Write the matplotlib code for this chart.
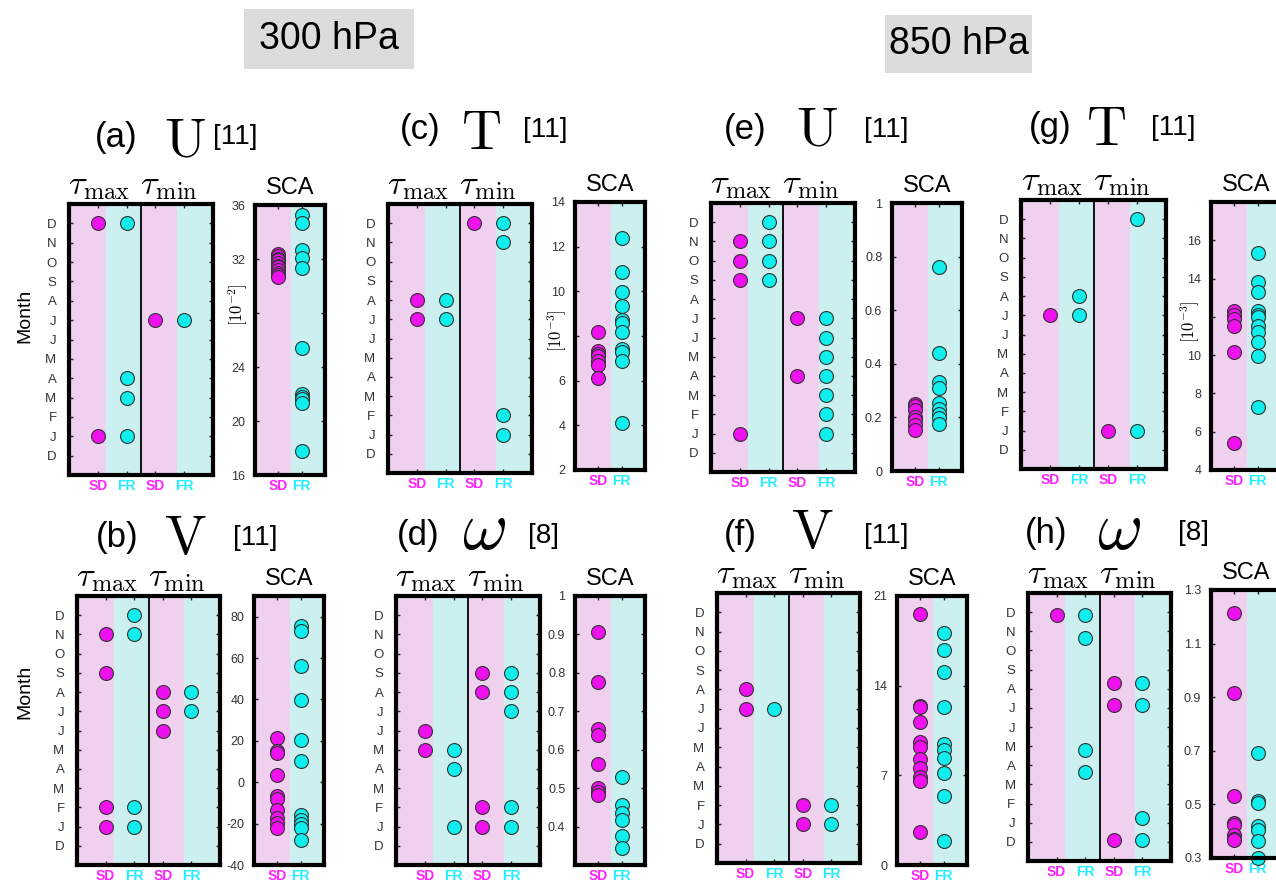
import matplotlib
matplotlib.use("Agg")
import matplotlib.pyplot as plt
from matplotlib.patches import Rectangle

plt.rcParams['font.family'] = ['Liberation Sans', 'DejaVu Sans']
plt.rcParams['mathtext.fontset'] = 'cm'

W, H = 1276, 882

# month index: 0 = D (prev), 1 = J ... 12 = D
month_labels = ['D', 'J', 'F', 'M', 'A', 'M', 'J', 'J', 'A', 'S', 'O', 'N', 'D']

# ---- (a) U 300 hPa
a_tmax_sd = [12, 1]
a_tmax_fr = [12, 4, 3, 1]
a_tmin_sd = [7]
a_tmin_fr = [7]
a_sca_sd = [32.4, 32.2, 32.0, 31.9, 31.7, 31.5, 31.4, 31.2, 31.0, 30.8, 30.7]
a_sca_fr = [35.25, 34.7, 32.7, 32.1, 31.3, 25.4, 22.0, 21.8, 21.6, 21.3, 17.8]

# ---- (b) V 300 hPa
b_tmax_sd = [11, 9, 2, 1]
b_tmax_fr = [12, 11, 2, 1]
b_tmin_sd = [8, 7, 6]
b_tmin_fr = [8, 7]
b_sca_sd = [21.5, 15.0, 14.2, 3.4, -6.8, -8.1, -13.2, -17.3, -19.7, -22.1]
b_sca_fr = [75.5, 73.1, 56.1, 39.5, 20.6, 10.2, -15.6, -18.1, -20.0, -22.1, -27.7]

# ---- (c) T 300 hPa
c_tmax_sd = [8, 7]
c_tmax_fr = [8, 7]
c_tmin_sd = [12]
c_tmin_fr = [12, 11, 2, 1]
c_sca_sd = [8.18, 7.31, 7.2, 7.1, 6.9, 6.7, 6.1]
c_sca_fr = [12.41, 10.85, 9.98, 9.35, 8.7, 8.6, 8.18, 7.43, 7.28, 6.9, 4.1]

# ---- (d) omega 300 hPa
d_tmax_sd = [6, 5]
d_tmax_fr = [5, 4, 1]
d_tmin_sd = [9, 8, 2, 1]
d_tmin_fr = [9, 8, 7, 2, 1]
d_sca_sd = [0.9076, 0.775, 0.655, 0.637, 0.563, 0.5, 0.489, 0.483]
d_sca_fr = [0.529, 0.455, 0.435, 0.416, 0.376, 0.345]

# ---- (e) U 850 hPa
e_tmax_sd = [11, 10, 9, 1]
e_tmax_fr = [12, 11, 10, 9]
e_tmin_sd = [7, 4]
e_tmin_fr = [7, 6, 5, 4, 3, 2, 1]
e_sca_sd = [0.249, 0.243, 0.227, 0.2, 0.19, 0.17, 0.152]
e_sca_fr = [0.76, 0.44, 0.333, 0.31, 0.255, 0.23, 0.214, 0.196, 0.177]

# ---- (f) V 850 hPa
f_tmax_sd = [8, 7]
f_tmax_fr = [7]
f_tmin_sd = [2, 1]
f_tmin_fr = [2, 1]
f_sca_sd = [19.6, 12.42, 12.3, 11.2, 9.6, 9.2, 8.3, 7.58, 6.9, 6.58, 2.55]
f_sca_fr = [18.1, 16.8, 15.05, 12.3, 9.47, 8.95, 8.34, 7.16, 5.37, 1.9]

# ---- (g) T 850 hPa
g_tmax_sd = [7]
g_tmax_fr = [8, 7]
g_tmin_sd = [1]
g_tmin_fr = [12, 1]
g_sca_sd = [12.31, 12.1, 11.88, 11.5, 10.15, 5.43]
g_sca_fr = [15.31, 13.84, 13.32, 12.31, 12.1, 11.97, 11.5, 11.19, 10.67, 9.97, 7.3]

# ---- (h) omega 850 hPa
h_tmax_sd = [11.83]
h_tmax_fr = [11.83, 10.66, 4.8, 3.63]
h_tmin_sd = [8.29, 7.15, 0.12]
h_tmin_fr = [8.29, 7.15, 1.27, 0.12]
h_sca_sd = [1.215, 0.915, 0.53, 0.431, 0.422, 0.385, 0.372, 0.366]
h_sca_fr = [0.69, 0.511, 0.505, 0.419, 0.406, 0.363, 0.30]

PINK = '#efd0ef'
CYAN = '#ccefef'
MAG = '#ee11ee'
CYN = '#11eeee'
SD_TXT = '#ff22ff'
FR_TXT = '#22eeff'

fig = plt.figure(figsize=(W / 100, H / 100), dpi=100)


def px_axes(l, t, r, b):
    return fig.add_axes([l / W, 1 - b / H, (r - l) / W, (b - t) / H])


def frame(ax):
    for s in ax.spines.values():
        s.set_linewidth(3)
        s.set_color('black')
        s.set_zorder(5)
    ax.tick_params(direction='in', length=3, width=1, left=True, right=True,
                   top=True, bottom=True, color='#222222')


def dots(ax, x, ys, col):
    ax.scatter([x] * len(ys), ys, s=100, c=col, edgecolors='#333333',
               linewidths=0.8, zorder=4, clip_on=False)


def color_xlabels(ax, labels):
    ax.set_xticklabels(labels, fontsize=10, fontweight='bold')
    for t, lab in zip(ax.get_xticklabels(), labels):
        t.set_color(SD_TXT if lab == 'SD' else FR_TXT)


def month_panel(box, tmax_sd, tmax_fr, tmin_sd, tmin_fr):
    ax = px_axes(*box)
    ax.axvspan(0, 1.3, color=PINK, lw=0, zorder=0)
    ax.axvspan(1.3, 2.5, color=CYAN, lw=0, zorder=0)
    ax.axvspan(2.5, 3.75, color=PINK, lw=0, zorder=0)
    ax.axvspan(3.75, 5, color=CYAN, lw=0, zorder=0)
    ax.axvline(2.5, color='black', lw=1.3, zorder=3)
    dots(ax, 1, tmax_sd, MAG)
    dots(ax, 2, tmax_fr, CYN)
    dots(ax, 3, tmin_sd, MAG)
    dots(ax, 4, tmin_fr, CYN)
    ax.set_xlim(0, 5)
    ax.set_ylim(-1, 13)
    ax.set_yticks(range(13))
    ax.set_yticklabels(month_labels, fontsize=9.5, color='#333333')
    ax.set_xticks([1, 2, 3, 4])
    color_xlabels(ax, ['SD', 'FR', 'SD', 'FR'])
    frame(ax)
    ax.tick_params(axis='x', pad=3)
    ax.tick_params(axis='y', pad=9)
    l, t, r, b = box
    fig.text((l + r) / 2 / W - 0.006, 1 - (t - 10) / H,
             r'$\tau_{\max}\ \tau_{\min}$', ha='center', va='baseline', fontsize=25)
    return ax


def sca_panel(box, sd, fr, ylim, ticks, ticklabels):
    ax = px_axes(*box)
    ax.axvspan(0, 1.55, color=PINK, lw=0, zorder=0)
    ax.axvspan(1.55, 3, color=CYAN, lw=0, zorder=0)
    dots(ax, 1, sd, MAG)
    dots(ax, 2, fr, CYN)
    ax.set_xlim(0, 3)
    ax.set_ylim(*ylim)
    ax.set_yticks(ticks)
    ax.set_yticklabels(ticklabels, fontsize=9, color='#333333')
    ax.set_xticks([1, 2])
    color_xlabels(ax, ['SD', 'FR'])
    frame(ax)
    ax.tick_params(axis='x', pad=3)
    ax.tick_params(axis='y', pad=7)
    l, t, r, b = box
    fig.text(min((l + r) / 2, 1248) / W, 1 - (t - 17) / H, 'SCA',
             ha='center', va='center', fontsize=17)
    return ax


def title(xs, y, base, letter, sym, n, symsize=40):
    fig.text(xs[0] / W, 1 - y / H, '(' + letter + ')', ha='center', va='center', fontsize=25)
    fig.text(xs[1] / W, 1 - base / H, sym, ha='center', va='baseline', fontsize=symsize)
    fig.text(xs[2] / W, 1 - y / H, '[' + n + ']', ha='center', va='center', fontsize=20)


# top row
month_panel((69, 204, 213, 475), a_tmax_sd, a_tmax_fr, a_tmin_sd, a_tmin_fr)
month_panel((388, 204, 532, 473), c_tmax_sd, c_tmax_fr, c_tmin_sd, c_tmin_fr)
month_panel((711, 203, 855, 472), e_tmax_sd, e_tmax_fr, e_tmin_sd, e_tmin_fr)
month_panel((1021, 200, 1166, 469), g_tmax_sd, g_tmax_fr, g_tmin_sd, g_tmin_fr)

sca_panel((255, 205, 325, 475), a_sca_sd, a_sca_fr, (16, 36),
          [16, 20, 24, 28, 32, 36], ['16', '20', '24', '', '32', '36'])
sca_panel((575, 202, 645, 470), c_sca_sd, c_sca_fr, (2, 14),
          [2, 4, 6, 8, 10, 12, 14], ['2', '4', '6', '', '10', '12', '14'])
sca_panel((892, 203, 962, 471), e_sca_sd, e_sca_fr, (0, 1),
          [0, 0.2, 0.4, 0.6, 0.8, 1], ['0', '0.2', '0.4', '0.6', '0.8', '1'])
sca_panel((1211, 202, 1281, 470), g_sca_sd, g_sca_fr, (4, 18),
          [4, 6, 8, 10, 12, 14, 16], ['4', '6', '8', '10', '', '14', '16'])

# bottom row
month_panel((77, 596, 220, 865), b_tmax_sd, b_tmax_fr, b_tmin_sd, b_tmin_fr)
month_panel((396, 596, 540, 865), d_tmax_sd, d_tmax_fr, d_tmin_sd, d_tmin_fr)
month_panel((717, 593, 860, 863), f_tmax_sd, f_tmax_fr, f_tmin_sd, f_tmin_fr)
month_panel((1028, 593, 1171, 861), h_tmax_sd, h_tmax_fr, h_tmin_sd, h_tmin_fr)

sca_panel((254, 596, 324, 865), b_sca_sd, b_sca_fr, (-40, 90),
          [-40, -20, 0, 20, 40, 60, 80], ['-40', '-20', '0', '20', '40', '60', '80'])
sca_panel((575, 596, 645, 865), d_sca_sd, d_sca_fr, (0.3, 1.0),
          [0.4, 0.5, 0.6, 0.7, 0.8, 0.9, 1.0], ['0.4', '0.5', '0.6', '0.7', '0.8', '0.9', '1'])
sca_panel((897, 596, 967, 865), f_sca_sd, f_sca_fr, (0, 21),
          [0, 7, 14, 21], ['0', '7', '14', '21'])
sca_panel((1211, 590, 1281, 858), h_sca_sd, h_sca_fr, (0.3, 1.3),
          [0.3, 0.5, 0.7, 0.9, 1.1, 1.3], ['0.3', '0.5', '0.7', '0.9', '1.1', '1.3'])

# scale labels on SCA axes
for x, y, s in [(238, 305, r'$[10^{-2}]$'), (557, 331, r'$[10^{-3}]$'), (1190, 322, r'$[10^{-3}]$')]:
    fig.text(x / W, 1 - y / H, s, rotation=90, ha='center', va='center', fontsize=12)

# panel titles
title((116, 185, 235), 137, 157, 'a', r'$\mathrm{U}$', '11')
title((420, 481, 545), 130, 149, 'c', r'$\mathrm{T}$', '11')
title((745, 817, 886), 130, 146, 'e', r'$\mathrm{U}$', '11')
title((1050, 1106, 1173), 128, 145, 'g', r'$\mathrm{T}$', '11')
title((117, 185, 255), 538, 554, 'b', r'$\mathrm{V}$', '11')
title((418, 484, 544), 536, 549, 'd', r'$\omega$', '8', symsize=50)
title((740, 812, 886), 536, 548, 'f', r'$\mathrm{V}$', '11')
title((1046, 1119, 1194), 533, 549, 'h', r'$\omega$', '8', symsize=50)

# Month labels
for y in [316, 692]:
    fig.text(25 / W, 1 - y / H, 'Month', rotation=90, ha='center', va='center', fontsize=14)

# pressure level headers
for l, t, r, b, s in [(244, 9, 414, 69, '300 hPa'), (885, 15, 1032, 73, '850 hPa')]:
    fig.patches.append(Rectangle((l / W, 1 - b / H), (r - l) / W, (b - t) / H,
                                 transform=fig.transFigure, facecolor='#dcdcdc',
                                 edgecolor='none', figure=fig))
    fig.text((l + r) / 2 / W, 1 - (t + b) / 2 / H, s, ha='center', va='center', fontsize=27)

fig.savefig('out.png', dpi=100)
